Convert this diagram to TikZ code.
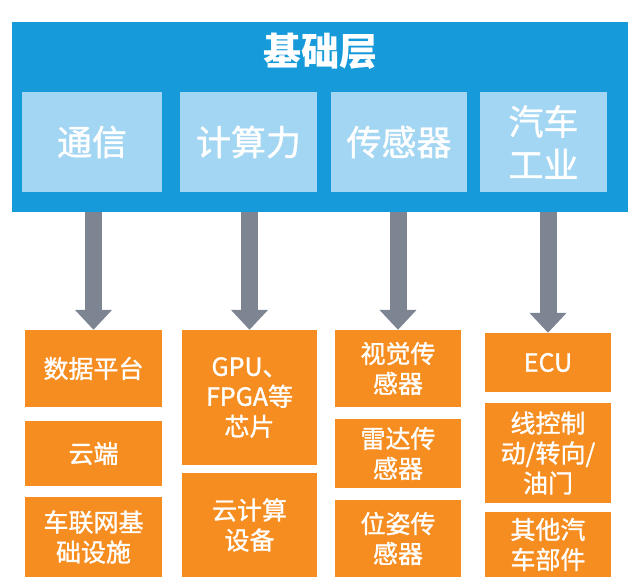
\documentclass[tikz,border=0pt]{standalone}
\usepackage{fontspec}
\setmainfont{Noto Sans CJK SC}
\newfontfamily\medfont{Noto Sans CJK SC}[FakeBold=1.2]
\usepackage{tikz}
\usetikzlibrary{arrows.meta}
\definecolor{baseblue}{RGB}{22, 154, 218}
\definecolor{sublight}{RGB}{163, 214, 242}
\definecolor{leaforange}{RGB}{246, 141, 32}
\definecolor{arrowgray}{RGB}{126, 133, 146}

\begin{document}
\begin{tikzpicture}[x=1pt, y=-1pt,
    base/.style={rectangle, fill=baseblue, minimum width=616pt,
                minimum height=190pt, inner sep=0pt},
    sub/.style={rectangle, fill=sublight, minimum height=100pt,
                inner sep=0pt, align=center, text=white,
                font=\medfont\fontsize{35}{43}\selectfont},
    leaf/.style={rectangle, fill=leaforange, inner sep=0pt,
                align=center, text=white,
                font=\medfont\fontsize{25}{30}\selectfont},
    arr/.style={-{Triangle[width=36pt,length=20pt]}, line width=17pt,
                color=arrowgray}]

    \useasboundingbox (0,0) rectangle (640,587);

    \node[base] (base) at (320,117) {};
    \node[text=white, font=\fontsize{38}{40}\bfseries] (title) at (320,51) {基础层};

    \node[sub, minimum width=140pt] (comm)    at (92,142)    {通信};
    \node[sub, minimum width=137pt] (compute) at (248.5,142) {计算力};
    \node[sub, minimum width=136pt] (sensor)  at (399,142)   {传感器};
    \node[sub, minimum width=127pt] (auto)    at (543.5,142) {汽车\\工业};

    \node[leaf, minimum width=137pt, minimum height=77pt]  (dataplat)  at (93.5,368.5)  {数据平台};
    \node[leaf, minimum width=137pt, minimum height=65pt]  (cloud)     at (93.5,453.5)  {云端};
    \node[leaf, minimum width=137pt, minimum height=80pt]  (v2xinfra)  at (93.5,537)    {车联网基\\础设施};

    \node[leaf, minimum width=135pt, minimum height=135pt] (chip)      at (249.5,397.5) {GPU、\\FPGA等\\芯片};
    \node[leaf, minimum width=135pt, minimum height=104pt] (cloudcomp) at (249.5,525)   {云计算\\设备};

    \node[leaf, minimum width=126pt, minimum height=77pt]  (vision)    at (398,368.5)   {视觉传\\感器};
    \node[leaf, minimum width=126pt, minimum height=69pt]  (radar)     at (398,453.5)   {雷达传\\感器};
    \node[leaf, minimum width=126pt, minimum height=77pt]  (pose)      at (398,538.5)   {位姿传\\感器};

    \node[leaf, minimum width=126pt, minimum height=59pt]  (ecu)       at (548,362.5)   {ECU};
    \node[leaf, minimum width=126pt, minimum height=100pt] (wire)      at (548,453)     {线控制\\动/转向/\\油门};
    \node[leaf, minimum width=126pt, minimum height=65pt]  (parts)     at (548,544.5)   {其他汽\\车部件};

    \draw[arr] (dataplat.north |- base.south) -- (dataplat.north);
    \draw[arr] (chip.north |- base.south)     -- (chip.north);
    \draw[arr] (vision.north |- base.south)   -- (vision.north);
    \draw[arr] (ecu.north |- base.south)      -- (ecu.north);

\end{tikzpicture}
\end{document}
